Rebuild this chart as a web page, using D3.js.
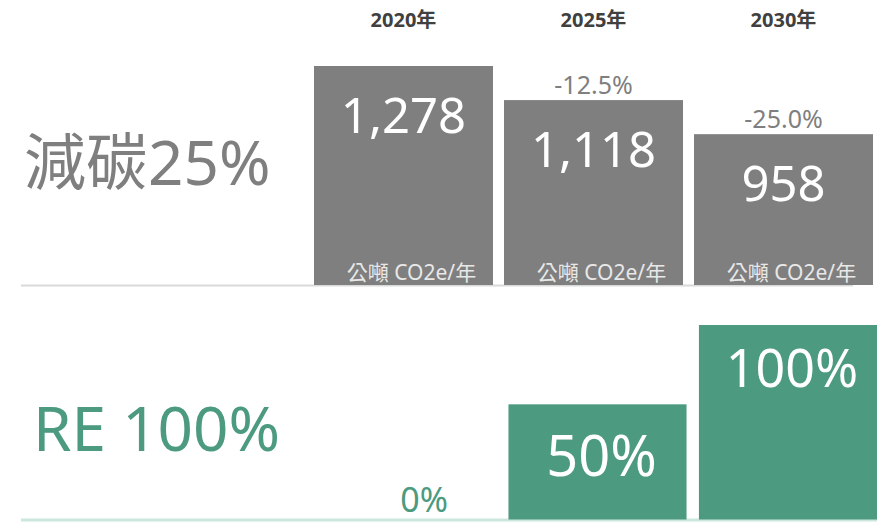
<!DOCTYPE html>
<html>
<head>
<meta charset="UTF-8">
<title>減碳 / RE100</title>
<script src="https://d3js.org/d3.v7.min.js"></script>
<style>
  body { margin: 0; background: #fff; }
  text { font-family: "Noto Sans", "Noto Sans CJK TC", sans-serif; }
</style>
</head>
<body>
<script>
  // data
  var years = ["2020年", "2025年", "2030年"];
  var emissions = [1278, 1118, 958];
  var reShares = [0, 50, 100];
  var unitLabel = "公噸 CO2e/年";
  var topTitle = "減碳25%";
  var bottomTitle = "RE 100%";

  var width = 877, height = 522;
  var gray = "#7f7f7f", green = "#4c9a80";

  var svg = d3.select("body").append("svg")
      .attr("width", width)
      .attr("height", height);

  var fmtNum = d3.format(",");
  var fmtPct = function(v) { return d3.format(".1%")(v).replace("\u2212", "-"); };

  // ---- top chart: emissions
  var xTop = d3.scaleBand().domain(years).range([314, 873]).paddingInner(0.058);
  var yTop = d3.scaleLinear().domain([250, 1278]).range([285, 66]);

  svg.append("line")
      .attr("x1", 21).attr("x2", 853)
      .attr("y1", 285.5).attr("y2", 285.5)
      .attr("stroke", "#d9d9d9").attr("stroke-width", 2);

  var topBars = svg.append("g").selectAll("g")
      .data(emissions)
      .enter().append("g");

  topBars.append("rect")
      .attr("x", function(d, i) { return xTop(years[i]); })
      .attr("y", function(d) { return yTop(d); })
      .attr("width", xTop.bandwidth())
      .attr("height", function(d) { return yTop.range()[0] - yTop(d); })
      .attr("fill", gray);

  topBars.append("text")
      .attr("x", function(d, i) { return xTop(years[i]) + xTop.bandwidth() / 2; })
      .attr("y", function(d) { return yTop(d) + 67; })
      .attr("text-anchor", "middle")
      .attr("fill", "#fff")
      .style("font-size", "49px")
      .text(function(d) { return fmtNum(d); });

  topBars.append("text")
      .attr("x", function(d, i) { return xTop(years[i]) + xTop.bandwidth() / 2 + 8; })
      .attr("y", 280)
      .attr("text-anchor", "middle")
      .attr("fill", "#e8e8e8")
      .style("font-size", "21px")
      .text(unitLabel);

  topBars.filter(function(d, i) { return i > 0; })
    .append("text")
      .attr("x", function(d) { return xTop(years[emissions.indexOf(d)]) + xTop.bandwidth() / 2; })
      .attr("y", function(d) { return yTop(d) - 6; })
      .attr("text-anchor", "middle")
      .attr("fill", gray)
      .style("font-size", "25px")
      .text(function(d) { return fmtPct(d / emissions[0] - 1); });

  svg.append("g").selectAll("text")
      .data(years)
      .enter().append("text")
      .attr("x", function(d) { return xTop(d) + xTop.bandwidth() / 2; })
      .attr("y", 27)
      .attr("text-anchor", "middle")
      .attr("fill", "#404040")
      .style("font-size", "20px")
      .style("font-weight", "bold")
      .text(function(d) { return d; });

  svg.append("text")
      .attr("x", 24).attr("y", 185)
      .attr("fill", gray)
      .style("font-size", "62px")
      .text(topTitle);

  // ---- bottom chart: renewable share
  var xBot = d3.scaleBand().domain(years).range([318, 877]).paddingInner(0.065);
  var yBot = d3.scaleLinear().domain([-22.6, 100]).range([519.5, 325]);

  svg.append("line")
      .attr("x1", 21).attr("x2", 877)
      .attr("y1", 520).attr("y2", 520)
      .attr("stroke", "#cde6dd").attr("stroke-width", 3);

  var botBars = svg.append("g").selectAll("g")
      .data(reShares)
      .enter().append("g");

  botBars.filter(function(d) { return d > 0; })
    .append("rect")
      .attr("x", function(d) { return xBot(years[reShares.indexOf(d)]); })
      .attr("y", function(d) { return yBot(d); })
      .attr("width", xBot.bandwidth())
      .attr("height", function(d) { return yBot.range()[0] - yBot(d); })
      .attr("fill", green);

  botBars.append("text")
      .attr("x", function(d, i) {
        return xBot(years[i]) + xBot.bandwidth() / 2 + (d > 0 ? (d >= 100 ? 4 : 4) : 17);
      })
      .attr("y", function(d) { return d > 0 ? yBot(d) + (d >= 100 ? 62 : 72) : 512; })
      .attr("text-anchor", "middle")
      .attr("fill", function(d) { return d > 0 ? "#fff" : green; })
      .style("font-size", function(d) { return d > 0 ? (d >= 100 ? "52px" : "56px") : "34px"; })
      .text(function(d) { return d + "%"; });

  svg.append("text")
      .attr("x", 33).attr("y", 451)
      .attr("fill", green)
      .style("font-size", "62px")
      .text(bottomTitle);
</script>
</body>
</html>
